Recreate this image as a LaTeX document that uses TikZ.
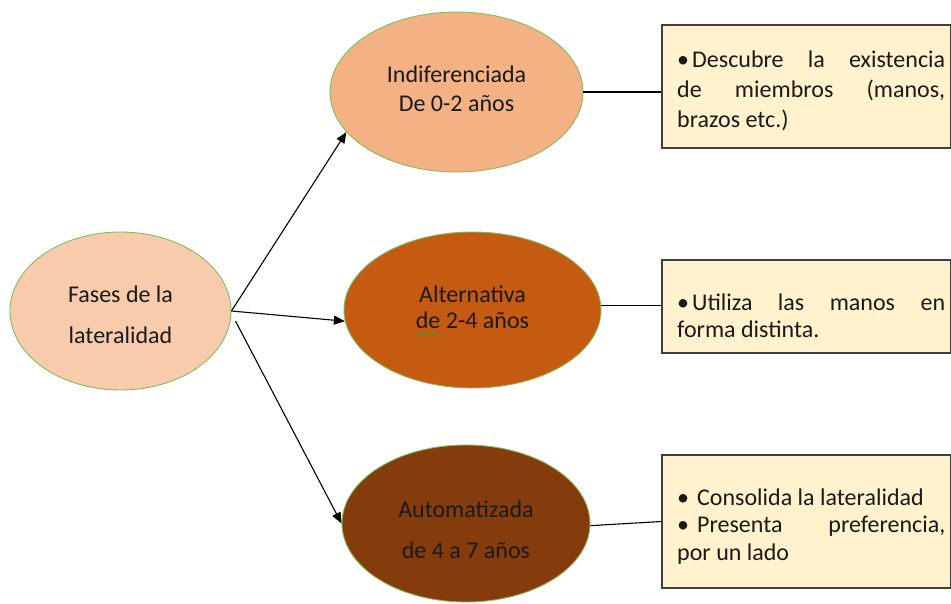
\documentclass[tikz,border=0pt]{standalone}
\usepackage{fontspec}
\setmainfont{Carlito}
\usetikzlibrary{arrows.meta,shapes.geometric,decorations.pathmorphing}
\definecolor{fasesfill}{HTML}{F8CBAD}
\definecolor{indiffill}{HTML}{F4B183}
\definecolor{altfill}{HTML}{C55A11}
\definecolor{autofill}{HTML}{843C0C}
\definecolor{edgegreen}{HTML}{82BC5E}
\definecolor{boxfill}{HTML}{FFF2CC}
\definecolor{boxgray}{HTML}{3F3F3F}
\definecolor{textdark}{HTML}{1A1A1A}
\definecolor{spellgreen}{HTML}{3C9A3C}
\begin{document}
\begin{tikzpicture}[x=1pt,y=-1pt,
  phase/.style={ellipse, draw=edgegreen, line width=0.9pt, inner sep=0pt},
  ptext/.style={align=center, text=textdark, inner sep=0pt},
  infobox/.style={rectangle, draw=boxgray, line width=1.3pt, fill=boxfill, inner sep=0pt},
  btext/.style={text width=268pt, align=justify, inner sep=0pt, anchor=north west, text=textdark},
  arr/.style={-{Triangle[length=11pt,width=9pt]}, line width=1.1pt},
  link/.style={line width=1.1pt},
  squiggle/.style={draw=spellgreen, line width=0.7pt, decorate, decoration={snake, amplitude=1.2pt, segment length=4.5pt}}]
\useasboundingbox (0,0) rectangle (951,603);

% info boxes
\node[infobox, minimum width=288.5pt, minimum height=123pt] (b1) at (806.25,86.5) {};
\node[infobox, minimum width=288.5pt, minimum height=93pt] (b2) at (806.25,306.5) {};
\node[infobox, minimum width=288.5pt, minimum height=133pt] (b3) at (806.25,521.5) {};

% ellipses
\node[phase, fill=fasesfill, minimum width=221pt, minimum height=158pt] (e1) at (120.5,311) {};
\node[phase, fill=indiffill, minimum width=253pt, minimum height=160pt] (e2) at (456.5,92) {};
\node[phase, fill=altfill, minimum width=257pt, minimum height=156pt] (e3) at (472.5,310) {};
\node[phase, fill=autofill, minimum width=248pt, minimum height=157pt] (e4) at (466,523.5) {};

% ellipse texts
\node[ptext, font=\fontsize{24}{41}\selectfont] (t1) at (120.5,314.25) {Fases de la\\lateralidad};
\node[ptext, font=\fontsize{24}{29}\selectfont] (t2) at (456.5,89.25) {Indiferenciada\\De 0-2 años};
\node[ptext, font=\fontsize{24}{26}\selectfont] (t3) at (472.5,306.75) {Alternativa\\de 2-4 años};
\node[ptext, font=\fontsize{24}{41}\selectfont] (t4) at (466,529.25) {Automatizada\\de 4 a 7 años};
\draw[squiggle] (414,334) -- (440,334);

% box texts
\node[btext, font=\fontsize{24}{30}\selectfont] (x1) at (677,46) {\noindent\strut\textbullet\hspace{3pt}Descubre la existencia\linebreak de miembros (manos,\linebreak brazos etc.)};
\node[btext, font=\fontsize{24}{27.5}\selectfont] (x2) at (677,290.75) {\noindent\strut\textbullet\hspace{3pt}Utiliza las manos en\linebreak forma distinta.};
\node[btext, font=\fontsize{24}{27.5}\selectfont] (x3) at (677,485.75) {\noindent\strut\textbullet\hspace{8pt}Consolida la lateralidad\par\noindent\textbullet\hspace{8pt}Presenta preferencia,\linebreak por un lado};

% arrows
\draw[arr] (e1.east) -- (e2.200);
\draw[arr] (e1.east) -- (e3.185);
\draw[arr] ([xshift=4pt,yshift=-10pt]e1.east) -- (e4.west);

% links to boxes
\draw[link] (e2.east) -- (e2.east -| b1.west);
\draw[link] (e3.2) -- (e3.2 -| b2.west);
\draw[link] (e4.-1) -- (b3.west);
\end{tikzpicture}
\end{document}
